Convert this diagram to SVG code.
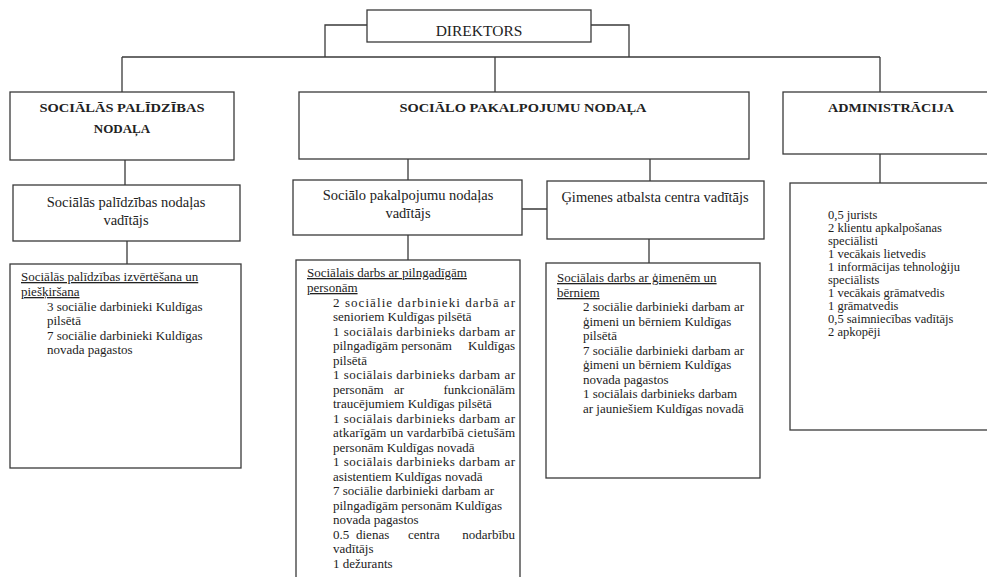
<svg xmlns="http://www.w3.org/2000/svg" width="987" height="577" viewBox="0 0 987 577">
<style>
.box{fill:#fff;stroke:#3a3a3a;stroke-width:1.3}
.con{fill:none;stroke:#3a3a3a;stroke-width:1.3}
text{font-family:"Liberation Serif","DejaVu Serif",serif;fill:#222}
.h{font-size:13px;font-weight:bold;text-anchor:middle}
.t{font-size:14.5px;text-anchor:middle}
.s{font-size:13px}
.a{font-size:12.5px}
.u{text-decoration:underline}
.e{text-anchor:end}
</style>
<rect width="987" height="577" fill="#fff"/>
<g id="connectors">
<path class="con" d="M367 25H325V57M591 25H629V57M122 57H880M122 57V92M495 57V92M880 57V92"/>
<path class="con" d="M125 160V185M127 241V264M408 159V180M408 235V260M650 159V181M649 239V263M522 209H547M880 154V183"/>
</g>
<g id="director">
<rect class="box" x="367" y="10" width="224" height="32"/>
<text class="t" x="479" y="36" style="font-size:15.5px">DIREKTORS</text>
</g>
<g id="soc-palidzibas">
<rect class="box" x="10" y="92" width="224" height="68"/>
<text class="h" x="122" y="112" textLength="165" lengthAdjust="spacingAndGlyphs">SOCIĀLĀS PALĪDZĪBAS</text>
<text class="h" x="122" y="133">NODAĻA</text>
</g>
<g id="soc-pakalpojumu">
<rect class="box" x="299" y="92" width="450" height="67"/>
<text class="h" x="523" y="112" textLength="247" lengthAdjust="spacingAndGlyphs">SOCIĀLO PAKALPOJUMU NODAĻA</text>
</g>
<g id="administracija">
<rect class="box" x="783" y="92" width="215" height="62"/>
<text class="h" x="891" y="112" textLength="126" lengthAdjust="spacingAndGlyphs">ADMINISTRĀCIJA</text>
</g>
<g id="sp-vaditajs">
<rect class="box" x="13" y="185" width="227" height="56"/>
<text class="t" x="126" y="207">Sociālās palīdzības  nodaļas</text>
<text class="t" x="126" y="225">vadītājs</text>
</g>
<g id="spak-vaditajs">
<rect class="box" x="293" y="180" width="229" height="55"/>
<text class="t" x="408" y="200">Sociālo pakalpojumu nodaļas</text>
<text class="t" x="408" y="218">vadītājs</text>
</g>
<g id="gimenes-vaditajs">
<rect class="box" x="547" y="181" width="217" height="58"/>
<text class="t" x="655" y="202">Ģimenes atbalsta centra vadītājs</text>
</g>
<g id="sp-darbs">
<rect class="box" x="10" y="264" width="231" height="204"/>
<text class="s u" x="21" y="281">Sociālās palīdzības izvērtēšana un</text>
<text class="s u" x="21" y="296">piešķiršana</text>
<text class="s" x="47" y="311">3 sociālie darbinieki Kuldīgas</text>
<text class="s" x="47" y="325">pilsētā</text>
<text class="s" x="47" y="340">7 sociālie darbinieki Kuldīgas</text>
<text class="s" x="47" y="354">novada pagastos</text>
</g>
<g id="spak-darbs">
<rect class="box" x="296" y="260" width="224" height="330"/>
<text class="s u" x="307" y="277">Sociālais darbs ar pilngadīgām</text>
<text class="s u" x="307" y="292">personām</text>
<text class="s" x="333" y="307" textLength="182" lengthAdjust="spacing">2 sociālie darbinieki darbā ar</text>
<text class="s" x="333" y="321">senioriem Kuldīgas pilsētā</text>
<text class="s" x="333" y="336" textLength="182" lengthAdjust="spacing">1 sociālais darbinieks darbam ar</text>
<text class="s" y="350"><tspan x="333">pilngadīgām personām</tspan><tspan class="e" x="515">Kuldīgas</tspan></text>
<text class="s" x="333" y="365">pilsētā</text>
<text class="s" x="333" y="379" textLength="182" lengthAdjust="spacing">1 sociālais darbinieks darbam ar</text>
<text class="s" y="394"><tspan x="333">personām</tspan><tspan x="394">ar</tspan><tspan class="e" x="515">funkcionālām</tspan></text>
<text class="s" x="333" y="408">traucējumiem Kuldīgas pilsētā</text>
<text class="s" x="333" y="423" textLength="182" lengthAdjust="spacing">1 sociālais darbinieks darbam ar</text>
<text class="s" x="333" y="437" textLength="182" lengthAdjust="spacing">atkarīgām un vardarbībā cietušām</text>
<text class="s" x="333" y="452">personām  Kuldīgas novadā</text>
<text class="s" x="333" y="466" textLength="182" lengthAdjust="spacing">1 sociālais darbinieks darbam ar</text>
<text class="s" x="333" y="481">asistentiem Kuldīgas novadā</text>
<text class="s" x="333" y="495">7 sociālie darbinieki darbam ar</text>
<text class="s" x="333" y="510">pilngadīgām personām  Kuldīgas</text>
<text class="s" x="333" y="524">novada pagastos</text>
<text class="s" y="539"><tspan x="333">0.5</tspan><tspan x="356">dienas</tspan><tspan x="408">centra</tspan><tspan class="e" x="515">nodarbību</tspan></text>
<text class="s" x="333" y="553">vadītājs</text>
<text class="s" x="333" y="568">1 dežurants</text>
</g>
<g id="gimenes-darbs">
<rect class="box" x="546" y="263" width="214" height="215"/>
<text class="s u" x="557" y="282">Sociālais darbs ar ģimenēm un</text>
<text class="s u" x="557" y="297">bērniem</text>
<text class="s" x="583" y="311">2 sociālie darbinieki darbam ar</text>
<text class="s" x="583" y="326">ģimeni un bērniem Kuldīgas</text>
<text class="s" x="583" y="340">pilsētā</text>
<text class="s" x="583" y="355">7 sociālie darbinieki darbam ar</text>
<text class="s" x="583" y="369">ģimeni un bērniem Kuldīgas</text>
<text class="s" x="583" y="384">novada pagastos</text>
<text class="s" x="583" y="398">1 sociālais darbinieks darbam</text>
<text class="s" x="583" y="413">ar jauniešiem Kuldīgas novadā</text>
</g>
<g id="admin-darbs">
<rect class="box" x="790" y="183" width="210" height="247"/>
<text class="a" x="828" y="219">0,5 jurists</text>
<text class="a" x="828" y="232">2 klientu apkalpošanas</text>
<text class="a" x="828" y="245">speciālisti</text>
<text class="a" x="828" y="258">1 vecākais lietvedis</text>
<text class="a" x="828" y="271">1 informācijas tehnoloģiju</text>
<text class="a" x="828" y="284">speciālists</text>
<text class="a" x="828" y="297">1 vecākais grāmatvedis</text>
<text class="a" x="828" y="310">1 grāmatvedis</text>
<text class="a" x="828" y="323">0,5 saimniecības vadītājs</text>
<text class="a" x="828" y="336">2 apkopēji</text>
</g>
</svg>
